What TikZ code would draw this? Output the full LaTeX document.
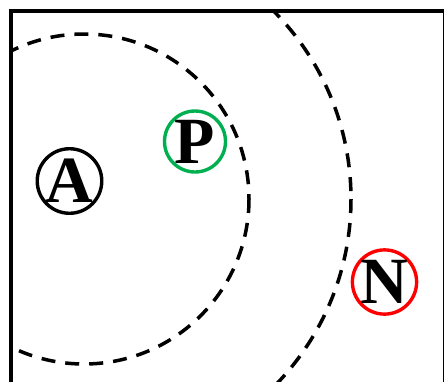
\documentclass[tikz,border=0pt]{standalone}
\usepackage{fontspec}
\setmainfont{Liberation Serif}
\definecolor{pgreen}{RGB}{0,176,80}
\definecolor{nred}{RGB}{255,0,0}
\tikzset{
  letternode/.style={circle, draw, line width=3.4pt, minimum size=61pt, inner sep=0pt,
    font=\fontsize{66}{66}\selectfont\bfseries},
  zone/.style={line width=3.5pt, dash pattern=on 14pt off 10pt}
}
\begin{document}
\begin{tikzpicture}[x=1pt,y=-1pt]
\useasboundingbox (0,0) rectangle (444,381);
\clip (0,0) rectangle (444,381);
\begin{scope}
  \clip (11,11) rectangle (445,395);
  \draw[zone] (84,199) circle[radius=165];
  \draw[zone] (84,199) circle[radius=267];
\end{scope}
\draw[line width=3.8pt] (11,395) -- (11,11) -- (445,11) -- (445,395);
\node[letternode] (A) at (69.5,181) {A};
\node[letternode, draw=pgreen] (P) at (195,141.5) {P};
\node[letternode, draw=nred] (N) at (384.5,282) {N};
\end{tikzpicture}
\end{document}
